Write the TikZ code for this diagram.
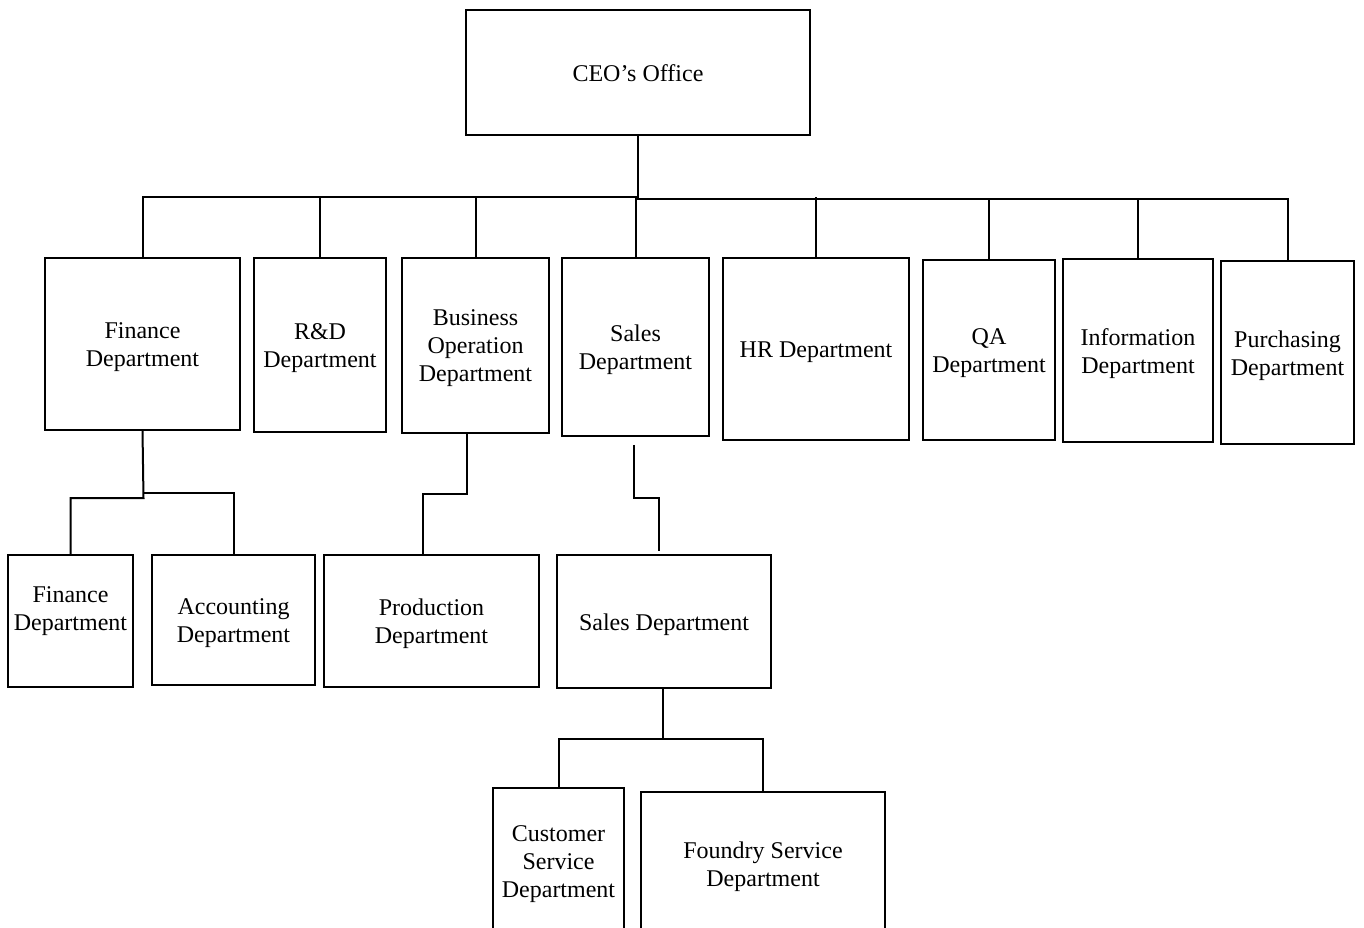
\documentclass[tikz,border=0pt]{standalone}
\usepackage{fontspec}
\setmainfont{Liberation Serif}
\newcommand{\orgbox}[7][0]{%
  \node[box, minimum width={#5-#3}, minimum height={#6-#4}] (#2) at ({(#3+#5)/2},{(#4+#6)/2}) {};
  \node[lbl] (#2t) at ([yshift={#1-3pt}]#2.center) {#7};}
\begin{document}
\begin{tikzpicture}[x=1pt,y=-1pt,
  box/.style={draw=black, line width=1.6pt, fill=white, inner sep=0pt},
  lbl/.style={inner sep=0pt, align=center, font=\fontsize{24}{28}\selectfont},
  conn/.style={draw=black, line width=2pt}]
\useasboundingbox (0,0) rectangle (1364,928);
\clip (0,0) rectangle (1364,928);
% top
\orgbox[2pt]{ceo}{466}{10}{810}{135}{CEO’s Office}
% level 2
\orgbox{f2}{45}{258}{240}{430}{Finance\\Department}
\orgbox{rd}{254}{258}{386}{432}{R\&D\\Department}
\orgbox{bo}{402}{258}{549}{433}{Business\\Operation\\Department}
\orgbox{s2}{562}{258}{709}{436}{Sales\\Department}
\orgbox{hr}{723}{258}{909}{440}{HR Department}
\orgbox{qa}{923}{260}{1055}{440}{QA\\Department}
\orgbox{inf}{1063}{259}{1213}{442}{Information\\Department}
\orgbox{pur}{1221}{261}{1354}{444}{Purchasing\\Department}
% level 3
\orgbox[13pt]{f3}{8}{555}{133}{687}{Finance\\Department}
\orgbox{acc}{152}{555}{315}{685}{Accounting\\Department}
\orgbox{prod}{324}{555}{539}{687}{Production\\Department}
\orgbox{s3}{557}{555}{771}{688}{Sales Department}
% level 4
\orgbox{cus}{493}{788}{624}{934}{Customer\\Service\\Department}
\orgbox{fnd}{641}{792}{885}{936}{Foundry Service\\Department}
% connectors: CEO to level 2
\coordinate (busL) at (638,197);
\coordinate (busR) at (638,198.5);
\draw[conn] (ceo.south) -- (busR);
\draw[conn] (f2.north) |- (busL) -- (busR) -| (pur.north);
\foreach \n in {rd,bo,s2,hr} {\draw[conn] (\n.north) -- (\n.north |- busL);}
\foreach \n in {qa,inf} {\draw[conn] (\n.north) -- (\n.north |- busR);}
% Finance
\coordinate (fj1) at (143.5,498);
\coordinate (fj2) at (143.5,493);
\draw[conn] (f2.south) -- (fj1) -| (f3.north);
\draw[conn] (fj2) -| (acc.north);
% Business Operation
\coordinate (pj) at (423,494);
\draw[conn] ([xshift=-8.5pt]bo.south) |- (pj) -- (pj |- prod.north);
% Sales
\coordinate (sj1) at (634,498);
\draw[conn] ([xshift=-1.5pt,yshift=-8pt]s2.south) -- (sj1) -| ([xshift=-5pt,yshift=3pt]s3.north);
\coordinate (sj2) at (663,739);
\draw[conn] ([xshift=-1pt]s3.south) -- (sj2) -| (cus.north);
\draw[conn] (sj2) -| (fnd.north);
\end{tikzpicture}
\end{document}
